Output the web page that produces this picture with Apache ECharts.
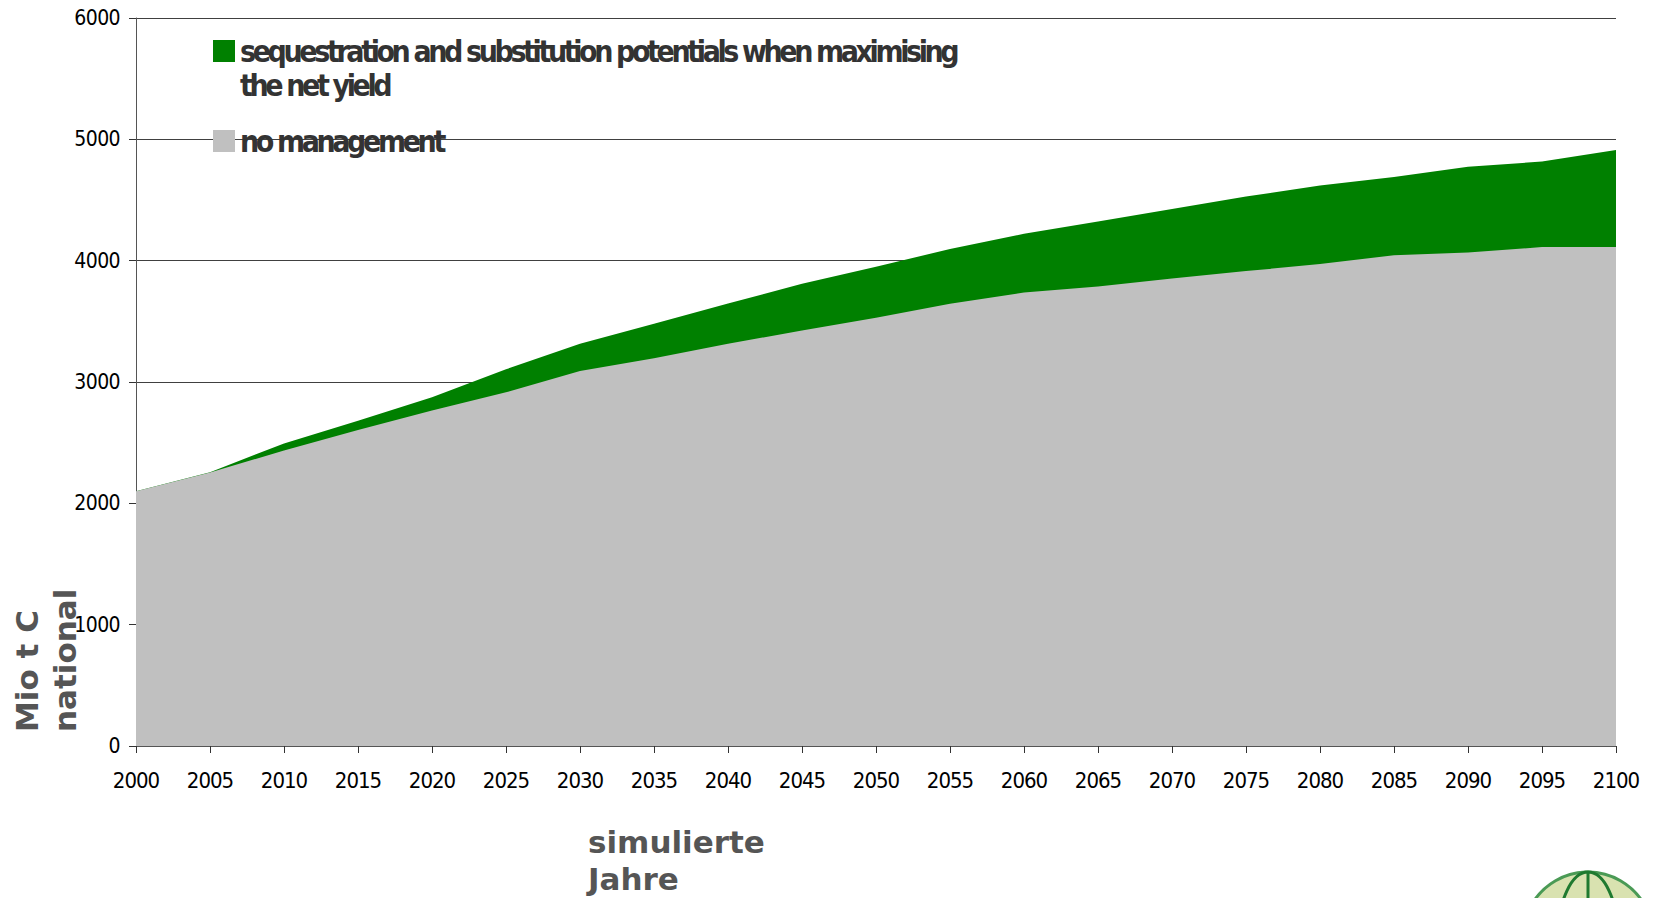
<!DOCTYPE html>
<html>
<head>
<meta charset="utf-8">
<script src="https://cdn.jsdelivr.net/npm/echarts@6/dist/echarts.min.js"></script>
<style>
  html, body { margin: 0; padding: 0; background: #fff; }
  #chart { width: 1655px; height: 898px; }
  #chart text[style*="30px"] { letter-spacing: -3.4px; }
  #chart text[style*="22px"] { letter-spacing: -1px; }
  #chart text[style*="21px"] { letter-spacing: -0.6px; }
</style>
</head>
<body>
<div id="chart"></div>
<script>
// ---- data ----
const years = ['2000','2005','2010','2015','2020','2025','2030','2035','2040','2045','2050',
               '2055','2060','2065','2070','2075','2080','2085','2090','2095','2100'];
const noManagement = [2100, 2255, 2435, 2605, 2765, 2915, 3090, 3195, 3315, 3425, 3530,
                      3645, 3737, 3787, 3852, 3914, 3972, 4044, 4068, 4112, 4112];
const maxNetYield  = [2100, 2257, 2493, 2680, 2875, 3105, 3315, 3480, 3647, 3810, 3950,
                      4096, 4222, 4322, 4425, 4528, 4620, 4690, 4774, 4817, 4912];
const yTicks = [0, 1000, 2000, 3000, 4000, 5000, 6000];
const nameGreen = 'sequestration and substitution potentials when maximising the net yield';
const nameGrey = 'no management';
const xTitle = 'simulierte\nJahre';
const yTitle = 'Mio t C\nnational';

const chart = echarts.init(document.getElementById('chart'), null, { renderer: 'svg' });
const option = {
  animation: false,
  backgroundColor: '#ffffff',
  grid: { left: 136, right: 39, top: 18, bottom: 152, containLabel: false },
  legend: {
    orient: 'vertical',
    left: 213,
    top: 0,
    padding: 0,
    itemGap: 22,
    itemWidth: 22,
    itemHeight: 22,
    icon: 'rect',
    selectedMode: false,
    itemStyle: { borderWidth: 0 },
    textStyle: {
      fontFamily: 'DejaVu Sans Condensed',
      fontWeight: 'bold',
      fontSize: 30,
      lineHeight: 34,
      color: '#333333'
    },
    formatter: function (name) {
      return name === nameGreen
        ? '\nsequestration and substitution potentials when maximising\nthe net yield'
        : name;
    },
    data: [nameGreen, nameGrey]
  },
  xAxis: {
    type: 'category',
    data: years,
    boundaryGap: false,
    axisLine: { show: true, lineStyle: { color: '#555555', width: 1 } },
    axisTick: { show: true, length: 7, interval: 0, lineStyle: { color: '#333333' } },
    axisLabel: {
      interval: 0,
      margin: 23,
      fontFamily: 'DejaVu Sans Condensed',
      fontSize: 22,
      color: '#000000'
    },
    splitLine: { show: false }
  },
  yAxis: {
    type: 'value',
    min: yTicks[0],
    max: yTicks[yTicks.length - 1],
    interval: 1000,
    axisLine: { show: true, lineStyle: { color: '#555555', width: 1 } },
    axisTick: { show: true, length: 7, lineStyle: { color: '#333333' } },
    axisLabel: {
      margin: 16,
      fontFamily: 'DejaVu Sans Condensed',
      fontSize: 21,
      color: '#000000',
      formatter: function (v) { return String(v); }
    },
    splitLine: { show: true, lineStyle: { color: '#404040', width: 1 } }
  },
  series: [
    {
      name: nameGreen,
      type: 'line',
      data: maxNetYield,
      symbol: 'none',
      lineStyle: { width: 0, color: '#008000' },
      itemStyle: { color: '#008000' },
      areaStyle: { color: '#008000', opacity: 1 },
      z: 2
    },
    {
      name: nameGrey,
      type: 'line',
      data: noManagement,
      symbol: 'none',
      lineStyle: { width: 0, color: '#C0C0C0' },
      itemStyle: { color: '#C0C0C0' },
      areaStyle: { color: '#C0C0C0', opacity: 1 },
      z: 2
    }
  ],
  graphic: [
    {
      type: 'text',
      x: 588,
      y: 823,
      style: {
        text: xTitle,
        fontFamily: 'DejaVu Sans',
        fontWeight: 'bold',
        fontSize: 31,
        lineHeight: 37,
        fill: '#555555',
        textAlign: 'left',
        textVerticalAlign: 'top'
      }
    },
    {
      type: 'text',
      x: 8,
      y: 732,
      rotation: Math.PI / 2,
      style: {
        text: yTitle,
        fontFamily: 'DejaVu Sans',
        fontWeight: 'bold',
        fontSize: 31,
        lineHeight: 38,
        fill: '#555555',
        textAlign: 'left',
        textVerticalAlign: 'top'
      }
    },
    {
      type: 'group',
      silent: true,
      children: [
        { type: 'circle', shape: { cx: 1588, cy: 937, r: 65 },
          style: { fill: '#d9e2b0', stroke: '#4a9a55', lineWidth: 3 } },
        { type: 'ellipse', shape: { cx: 1588, cy: 937, rx: 30, ry: 65 },
          style: { fill: 'none', stroke: '#1f7a30', lineWidth: 3 } },
        { type: 'ellipse', shape: { cx: 1588, cy: 960, rx: 64, ry: 60 },
          style: { fill: 'none', stroke: '#2e8b3e', lineWidth: 2 } },
        { type: 'line', shape: { x1: 1588, y1: 872, x2: 1588, y2: 898 },
          style: { stroke: '#1f7a30', lineWidth: 3 } }
      ]
    }
  ]
};
chart.setOption(option);
</script>
</body>
</html>
